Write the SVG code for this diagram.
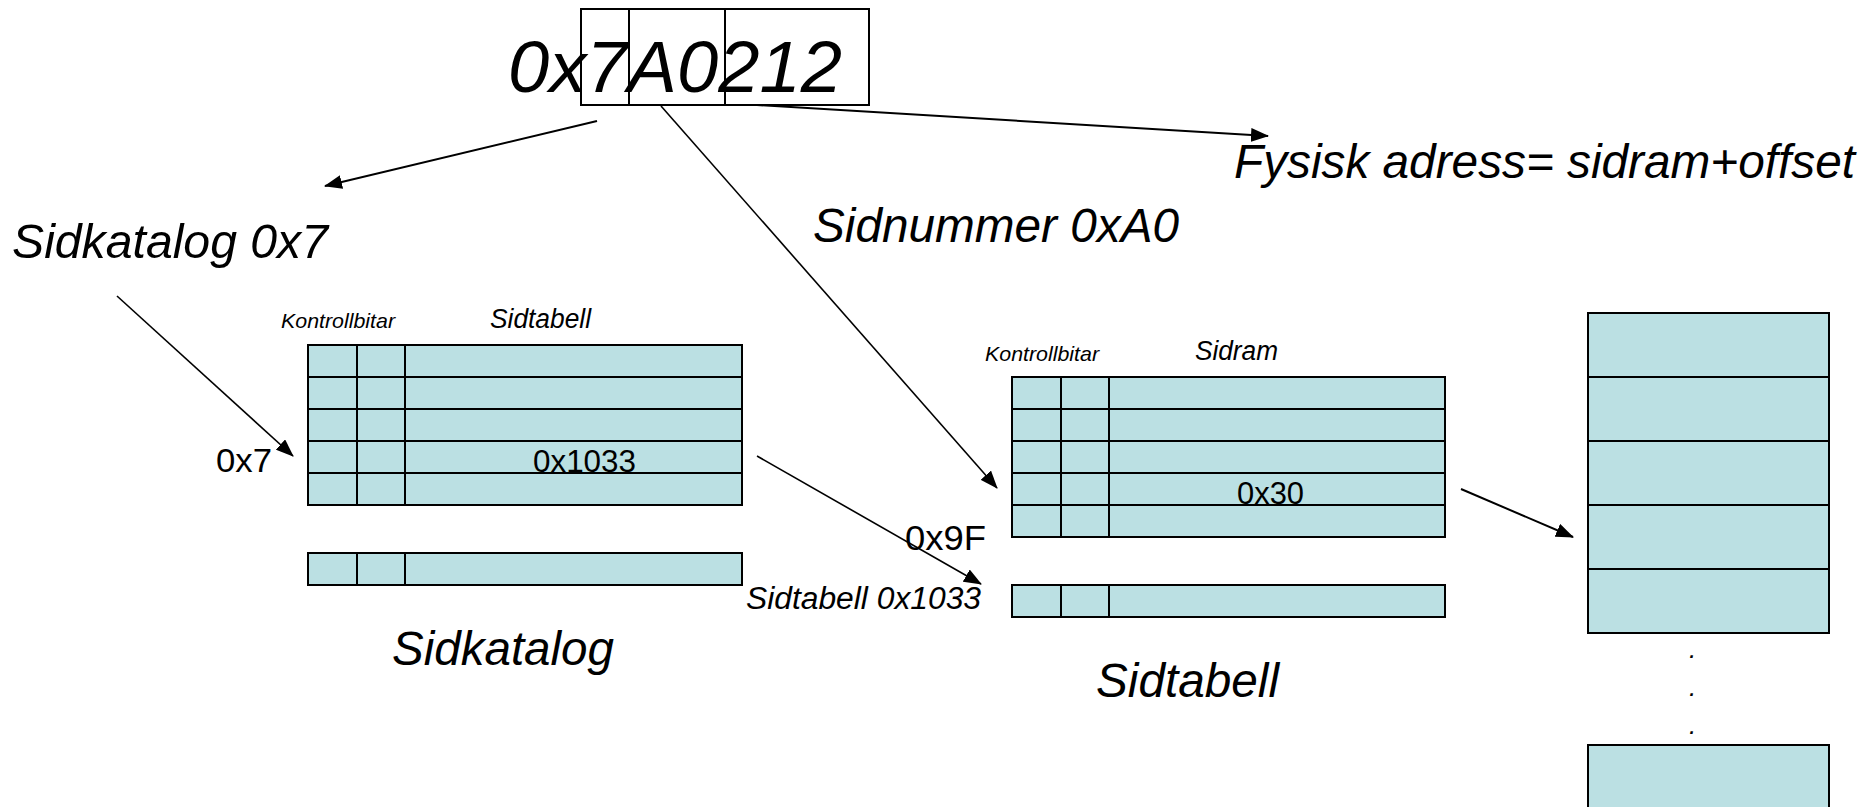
<svg xmlns="http://www.w3.org/2000/svg" width="1866" height="807" viewBox="0 0 1866 807">
<style>
text{font-family:"Liberation Sans",Arial,sans-serif;fill:#000}
.it{font-style:italic}
.cell{fill:#BBE0E3;stroke:#000;stroke-width:2}
.ln{stroke:#000;stroke-width:2;fill:none}
.thin{stroke:#000;stroke-width:1.6;fill:none}
</style>
<defs>
<marker id="ah" markerUnits="userSpaceOnUse" markerWidth="18" markerHeight="14" refX="17" refY="7" orient="auto">
<path d="M0,0 L18,7 L0,14 z" fill="#000"/>
</marker>
</defs>
<rect width="1866" height="807" fill="#fff"/>

<g id="address">
<text class="it" x="508" y="92" font-size="73" textLength="334" lengthAdjust="spacingAndGlyphs">0x7A0212</text>
<rect x="581" y="9" width="288" height="96" fill="none" stroke="#000" stroke-width="2"/>
<line class="ln" x1="629" y1="9" x2="629" y2="105"/>
<line class="ln" x1="725" y1="9" x2="725" y2="105"/>
</g>

<g id="label-sidkatalog-0x7"><text class="it" x="12" y="258" font-size="48" textLength="316" lengthAdjust="spacingAndGlyphs">Sidkatalog 0x7</text></g>
<g id="label-sidnummer"><text class="it" x="813" y="242" font-size="48" textLength="366" lengthAdjust="spacingAndGlyphs">Sidnummer 0xA0</text></g>
<g id="label-fysisk"><text class="it" x="1234" y="178" font-size="48" textLength="621" lengthAdjust="spacingAndGlyphs">Fysisk adress= sidram+offset</text></g>

<g id="sidkatalog">
<text class="it" x="281" y="328" font-size="21" textLength="114" lengthAdjust="spacingAndGlyphs">Kontrollbitar</text>
<text class="it" x="490" y="328" font-size="27" textLength="101" lengthAdjust="spacingAndGlyphs">Sidtabell</text>
<rect class="cell" x="308" y="345" width="434" height="160"/>
<line class="ln" x1="308" y1="377" x2="742" y2="377"/>
<line class="ln" x1="308" y1="409" x2="742" y2="409"/>
<line class="ln" x1="308" y1="441" x2="742" y2="441"/>
<line class="ln" x1="308" y1="473" x2="742" y2="473"/>
<line class="ln" x1="357" y1="345" x2="357" y2="505"/>
<line class="ln" x1="405" y1="345" x2="405" y2="505"/>
<text x="533" y="472" font-size="31" textLength="103" lengthAdjust="spacingAndGlyphs">0x1033</text>
<rect class="cell" x="308" y="553" width="434" height="32"/>
<line class="ln" x1="357" y1="553" x2="357" y2="585"/>
<line class="ln" x1="405" y1="553" x2="405" y2="585"/>
<text x="216" y="472" font-size="34" textLength="56" lengthAdjust="spacingAndGlyphs">0x7</text>
<text class="it" x="392" y="665" font-size="48" textLength="222" lengthAdjust="spacingAndGlyphs">Sidkatalog</text>
</g>

<g id="sidtabell">
<text class="it" x="985" y="361" font-size="21" textLength="114" lengthAdjust="spacingAndGlyphs">Kontrollbitar</text>
<text class="it" x="1195" y="360" font-size="27" textLength="83" lengthAdjust="spacingAndGlyphs">Sidram</text>
<rect class="cell" x="1012" y="377" width="433" height="160"/>
<line class="ln" x1="1012" y1="409" x2="1445" y2="409"/>
<line class="ln" x1="1012" y1="441" x2="1445" y2="441"/>
<line class="ln" x1="1012" y1="473" x2="1445" y2="473"/>
<line class="ln" x1="1012" y1="505" x2="1445" y2="505"/>
<line class="ln" x1="1061" y1="377" x2="1061" y2="537"/>
<line class="ln" x1="1109" y1="377" x2="1109" y2="537"/>
<text x="1237" y="504" font-size="31" textLength="67" lengthAdjust="spacingAndGlyphs">0x30</text>
<rect class="cell" x="1012" y="585" width="433" height="32"/>
<line class="ln" x1="1061" y1="585" x2="1061" y2="617"/>
<line class="ln" x1="1109" y1="585" x2="1109" y2="617"/>
<text x="905" y="550" font-size="35" textLength="81" lengthAdjust="spacingAndGlyphs">0x9F</text>
<text class="it" x="746" y="609" font-size="31" textLength="235" lengthAdjust="spacingAndGlyphs">Sidtabell 0x1033</text>
<text class="it" x="1096" y="697" font-size="48" textLength="183" lengthAdjust="spacingAndGlyphs">Sidtabell</text>
</g>

<g id="minne">
<rect class="cell" x="1588" y="313" width="241" height="320"/>
<line class="ln" x1="1588" y1="377" x2="1829" y2="377"/>
<line class="ln" x1="1588" y1="441" x2="1829" y2="441"/>
<line class="ln" x1="1588" y1="505" x2="1829" y2="505"/>
<line class="ln" x1="1588" y1="569" x2="1829" y2="569"/>
<text class="it" x="1689" y="658" font-size="26">.</text>
<text class="it" x="1689" y="696" font-size="26">.</text>
<text class="it" x="1689" y="734" font-size="26">.</text>
<rect class="cell" x="1588" y="745" width="241" height="80"/>
</g>

<g id="connectors">
<line class="ln" x1="597" y1="121" x2="325" y2="186" marker-end="url(#ah)"/>
<line class="ln" x1="757" y1="105" x2="1268" y2="136" marker-end="url(#ah)"/>
<line class="thin" x1="661" y1="106" x2="997" y2="488" marker-end="url(#ah)"/>
<line class="thin" x1="117" y1="296" x2="293" y2="456" marker-end="url(#ah)"/>
<line class="thin" x1="757" y1="456" x2="981" y2="584" marker-end="url(#ah)"/>
<line class="ln" x1="1461" y1="489" x2="1573" y2="537" marker-end="url(#ah)"/>
</g>
</svg>
